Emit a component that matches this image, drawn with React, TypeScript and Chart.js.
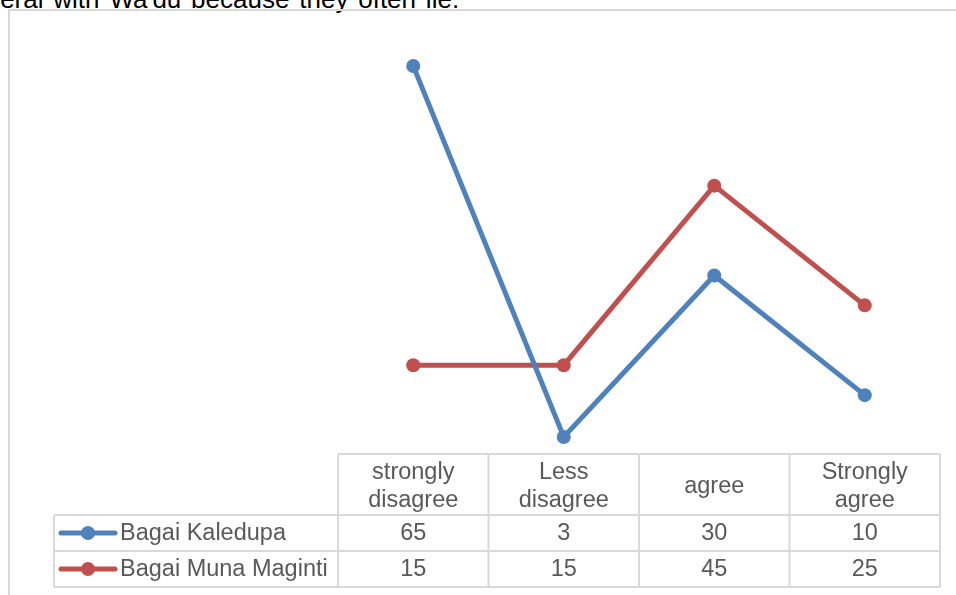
import React, { useEffect, useRef } from "react";
import { Chart, registerables } from "chart.js";

Chart.register(...registerables);

const categoryLines: string[][] = [
  ["strongly", "disagree"],
  ["Less", "disagree"],
  ["agree"],
  ["Strongly", "agree"],
];
const categories: string[] = categoryLines.map((l) => l.join(" "));
const seriesNames: string[] = ["Bagai Kaledupa", "Bagai Muna Maginti"];
const kaledupa: number[] = [65, 3, 30, 10];
const munaMaginti: number[] = [15, 15, 45, 25];
const seriesColors: string[] = ["#4F81BD", "#C0504D"];
const yMin = 0;
const yMax = 70;
const captionText = "funeral with Wa'du because they often lie.";

const FONT = '"Liberation Sans", Arial, sans-serif';
const TEXT_COLOR = "#595959";
const GRID_COLOR = "#D9D9D9";

const tablePlugin = {
  id: "dataTable",
  afterDraw(chart: any) {
    const { ctx, chartArea } = chart;
    const x = chart.scales.x;
    const n = categories.length;
    const step = x.getPixelForValue(1) - x.getPixelForValue(0);
    const left = x.getPixelForValue(0) - step / 2;
    const right = x.getPixelForValue(n - 1) + step / 2;
    const top = chartArea.bottom - 1;
    const headerH = 61;
    const rowH = 36;
    const legendLeft = 54;
    const headerBottom = top + headerH;
    const bottom = headerBottom + rowH * seriesNames.length;

    ctx.save();
    ctx.strokeStyle = GRID_COLOR;
    ctx.lineWidth = 2;
    ctx.beginPath();
    ctx.moveTo(left, top);
    ctx.lineTo(right, top);
    for (let r = 0; r <= seriesNames.length; r++) {
      const yy = headerBottom + r * rowH;
      ctx.moveTo(legendLeft, yy);
      ctx.lineTo(right, yy);
    }
    ctx.moveTo(legendLeft, headerBottom);
    ctx.lineTo(legendLeft, bottom);
    for (let c = 0; c <= n; c++) {
      const xx = left + c * step;
      ctx.moveTo(xx, top);
      ctx.lineTo(xx, bottom);
    }
    ctx.stroke();

    ctx.fillStyle = TEXT_COLOR;
    ctx.font = `23.5px ${FONT}`;
    ctx.textAlign = "center";
    ctx.textBaseline = "middle";
    const lineGap = 28;
    categoryLines.forEach((lines, i) => {
      const cx = x.getPixelForValue(i);
      const cy = top + headerH / 2;
      const start = cy - ((lines.length - 1) * lineGap) / 2;
      lines.forEach((t, j) => ctx.fillText(t, cx, start + j * lineGap + 2));
    });

    const datasets = chart.data.datasets;
    datasets.forEach((ds: any, r: number) => {
      const cy = headerBottom + r * rowH + rowH / 2;
      ctx.fillStyle = TEXT_COLOR;
      ctx.textAlign = "center";
      (ds.data as number[]).forEach((v, i) => {
        ctx.fillText(String(v), x.getPixelForValue(i), cy + 1);
      });
      ctx.strokeStyle = ds.borderColor;
      ctx.lineWidth = 5;
      ctx.lineCap = "round";
      ctx.beginPath();
      ctx.moveTo(legendLeft + 7, cy);
      ctx.lineTo(legendLeft + 61, cy);
      ctx.stroke();
      ctx.fillStyle = ds.borderColor;
      ctx.beginPath();
      ctx.arc(legendLeft + 34, cy, 7, 0, Math.PI * 2);
      ctx.fill();
      ctx.fillStyle = TEXT_COLOR;
      ctx.textAlign = "left";
      ctx.fillText(ds.label, legendLeft + 66, cy + 1);
    });
    ctx.restore();
  },
};

export default function App() {
  const canvasRef = useRef<HTMLCanvasElement | null>(null);

  useEffect(() => {
    if (!canvasRef.current) return;
    const mk = (i: number, data: number[]) => ({
      label: seriesNames[i],
      data,
      borderColor: seriesColors[i],
      backgroundColor: seriesColors[i],
      borderWidth: 5,
      pointRadius: 7,
      pointBorderWidth: 0,
      pointBackgroundColor: seriesColors[i],
      tension: 0,
    });
    const chart = new Chart(canvasRef.current, {
      type: "line",
      data: {
        labels: categories,
        datasets: [mk(0, kaledupa), mk(1, munaMaginti)],
      },
      options: {
        responsive: false,
        animation: false,
        devicePixelRatio: 1,
        layout: { padding: { left: 338, right: 16, top: 36, bottom: 140 } },
        plugins: { legend: { display: false }, tooltip: { enabled: false } },
        scales: {
          x: { display: false, offset: true },
          y: { display: false, min: yMin, max: yMax },
        },
      },
      plugins: [tablePlugin],
    });
    return () => chart.destroy();
  }, []);

  return (
    <div
      style={{
        position: "fixed",
        left: 0,
        top: 0,
        width: 956,
        height: 595,
        overflow: "hidden",
        background: "#fff",
      }}
    >
      <div
        style={{
          position: "absolute",
          left: -36,
          top: -14.5,
          font: `26px ${FONT}`,
          lineHeight: "26px",
          wordSpacing: "2.6px",
          whiteSpace: "nowrap",
          color: "#000",
        }}
      >
        {captionText}
      </div>
      <div
        style={{
          position: "absolute",
          left: 8,
          top: 9,
          width: 1000,
          height: 700,
          border: `2px solid ${GRID_COLOR}`,
          boxSizing: "border-box",
        }}
      />
      <canvas
        ref={canvasRef}
        width={956}
        height={595}
        style={{ position: "absolute", left: 0, top: 0 }}
      />
    </div>
  );
}
